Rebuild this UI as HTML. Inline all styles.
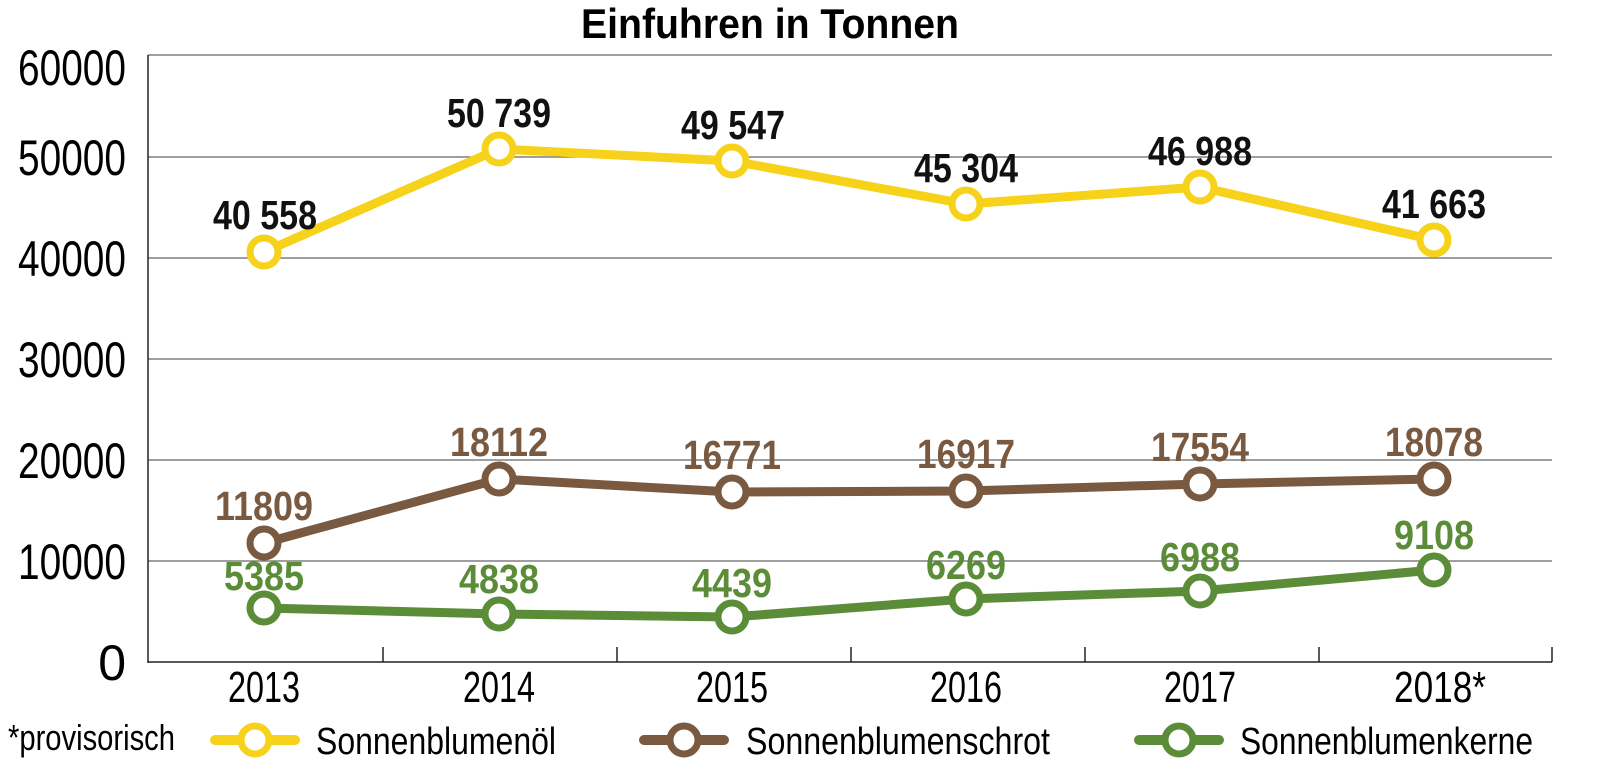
<!DOCTYPE html>
<html><head><meta charset="utf-8"><style>html,body{margin:0;padding:0;background:#fff}svg{display:block}</style></head>
<body>
<svg width="1600" height="781" viewBox="0 0 1600 781" xmlns="http://www.w3.org/2000/svg" font-family="Liberation Sans, sans-serif">
<rect width="1600" height="781" fill="#fff"/>
<text x="770" y="38" font-size="42" font-weight="bold" text-anchor="middle" textLength="378" lengthAdjust="spacingAndGlyphs">Einfuhren in Tonnen</text>
<g stroke="#666" stroke-width="1.3">
<line x1="148" y1="55" x2="1552" y2="55"/><line x1="148" y1="157" x2="1552" y2="157"/><line x1="148" y1="258" x2="1552" y2="258"/><line x1="148" y1="359" x2="1552" y2="359"/><line x1="148" y1="460" x2="1552" y2="460"/><line x1="148" y1="561" x2="1552" y2="561"/>
</g>
<g stroke="#222" stroke-width="1.5">
<line x1="148" y1="55" x2="148" y2="663"/><line x1="148" y1="662" x2="1552" y2="662"/>
<line x1="383" y1="662" x2="383" y2="647"/><line x1="617" y1="662" x2="617" y2="647"/><line x1="851" y1="662" x2="851" y2="647"/><line x1="1085" y1="662" x2="1085" y2="647"/><line x1="1319" y1="662" x2="1319" y2="647"/><line x1="1552" y1="662" x2="1552" y2="647"/>
</g>
<g font-size="50" text-anchor="end">
<text x="126" y="85" textLength="108" lengthAdjust="spacingAndGlyphs">60000</text>
<text x="126" y="175" textLength="108" lengthAdjust="spacingAndGlyphs">50000</text>
<text x="126" y="276" textLength="108" lengthAdjust="spacingAndGlyphs">40000</text>
<text x="126" y="377" textLength="108" lengthAdjust="spacingAndGlyphs">30000</text>
<text x="126" y="478" textLength="108" lengthAdjust="spacingAndGlyphs">20000</text>
<text x="126" y="579" textLength="108" lengthAdjust="spacingAndGlyphs">10000</text>
<text x="126" y="680">0</text>
</g>
<g font-size="44" text-anchor="middle">
<text x="264" y="702" textLength="72" lengthAdjust="spacingAndGlyphs">2013</text>
<text x="499" y="702" textLength="72" lengthAdjust="spacingAndGlyphs">2014</text>
<text x="732" y="702" textLength="72" lengthAdjust="spacingAndGlyphs">2015</text>
<text x="966" y="702" textLength="72" lengthAdjust="spacingAndGlyphs">2016</text>
<text x="1200" y="702" textLength="72" lengthAdjust="spacingAndGlyphs">2017</text>
<text x="1440" y="702" textLength="92" lengthAdjust="spacingAndGlyphs">2018*</text>
</g>
<g fill="none" stroke-width="9" stroke-linejoin="round">
<polyline stroke="#f7d21b" points="264,252 499,149 732,161 966,204 1200,187 1434,240"/>
<polyline stroke="#7a5941" points="264,543 499,479 732,492 966,491 1200,484 1434,479"/>
<polyline stroke="#5b8c38" points="264,608 499,614 732,617 966,599 1200,591 1434,570"/>
</g>
<g fill="#fff" stroke-width="7">
<g stroke="#f7d21b"><circle cx="264" cy="252" r="14"/><circle cx="499" cy="149" r="14"/><circle cx="732" cy="161" r="14"/><circle cx="966" cy="204" r="14"/><circle cx="1200" cy="187" r="14"/><circle cx="1434" cy="240" r="14"/></g>
<g stroke="#7a5941"><circle cx="264" cy="543" r="14"/><circle cx="499" cy="479" r="14"/><circle cx="732" cy="492" r="14"/><circle cx="966" cy="491" r="14"/><circle cx="1200" cy="484" r="14"/><circle cx="1434" cy="479" r="14"/></g>
<g stroke="#5b8c38"><circle cx="264" cy="608" r="14"/><circle cx="499" cy="614" r="14"/><circle cx="732" cy="617" r="14"/><circle cx="966" cy="599" r="14"/><circle cx="1200" cy="591" r="14"/><circle cx="1434" cy="570" r="14"/></g>
</g>
<g font-size="41" font-weight="bold" text-anchor="middle">
<g fill="#111">
<text x="265" y="229" textLength="104" lengthAdjust="spacingAndGlyphs">40 558</text>
<text x="499" y="127" textLength="104" lengthAdjust="spacingAndGlyphs">50 739</text>
<text x="733" y="139" textLength="104" lengthAdjust="spacingAndGlyphs">49 547</text>
<text x="966" y="182" textLength="104" lengthAdjust="spacingAndGlyphs">45 304</text>
<text x="1200" y="165" textLength="104" lengthAdjust="spacingAndGlyphs">46 988</text>
<text x="1434" y="218" textLength="104" lengthAdjust="spacingAndGlyphs">41 663</text>
</g>
<g fill="#7a5941">
<text x="264" y="520" textLength="98" lengthAdjust="spacingAndGlyphs">11809</text>
<text x="499" y="456" textLength="98" lengthAdjust="spacingAndGlyphs">18112</text>
<text x="732" y="469" textLength="98" lengthAdjust="spacingAndGlyphs">16771</text>
<text x="966" y="468" textLength="98" lengthAdjust="spacingAndGlyphs">16917</text>
<text x="1200" y="461" textLength="98" lengthAdjust="spacingAndGlyphs">17554</text>
<text x="1434" y="456" textLength="98" lengthAdjust="spacingAndGlyphs">18078</text>
</g>
<g fill="#5b8c38">
<text x="264" y="590" textLength="80" lengthAdjust="spacingAndGlyphs">5385</text>
<text x="499" y="593" textLength="80" lengthAdjust="spacingAndGlyphs">4838</text>
<text x="732" y="597" textLength="80" lengthAdjust="spacingAndGlyphs">4439</text>
<text x="966" y="579" textLength="80" lengthAdjust="spacingAndGlyphs">6269</text>
<text x="1200" y="571" textLength="80" lengthAdjust="spacingAndGlyphs">6988</text>
<text x="1434" y="549" textLength="80" lengthAdjust="spacingAndGlyphs">9108</text>
</g>
</g>
<text x="8" y="750" font-size="36" textLength="167" lengthAdjust="spacingAndGlyphs">*provisorisch</text>
<g stroke-width="10" stroke-linecap="round">
<line x1="215" y1="740" x2="295" y2="740" stroke="#f7d21b"/>
<line x1="644" y1="740" x2="724" y2="740" stroke="#7a5941"/>
<line x1="1139" y1="740" x2="1219" y2="740" stroke="#5b8c38"/>
</g>
<g fill="#fff" stroke-width="7">
<circle cx="255" cy="740" r="14" stroke="#f7d21b"/>
<circle cx="684" cy="740" r="14" stroke="#7a5941"/>
<circle cx="1179" cy="740" r="14" stroke="#5b8c38"/>
</g>
<g font-size="38">
<text x="316" y="754" textLength="240" lengthAdjust="spacingAndGlyphs">Sonnenblumenöl</text>
<text x="746" y="754" textLength="304" lengthAdjust="spacingAndGlyphs">Sonnenblumenschrot</text>
<text x="1240" y="754" textLength="293" lengthAdjust="spacingAndGlyphs">Sonnenblumenkerne</text>
</g>
</svg>
</body></html>
